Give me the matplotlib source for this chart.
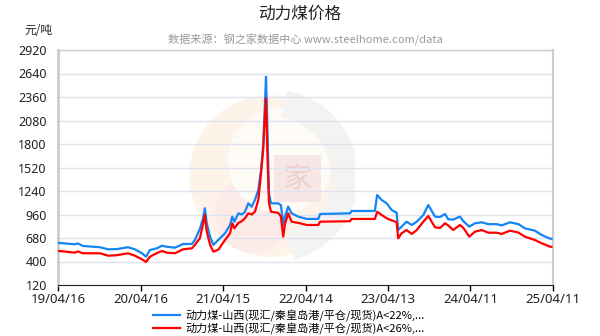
import matplotlib
matplotlib.use("Agg")
import matplotlib.pyplot as plt
import matplotlib.dates as mdates
import pandas as pd
from matplotlib.patches import Circle, Wedge, Rectangle

plt.rcParams["font.family"] = ["Noto Sans", "Noto Sans CJK SC", "DejaVu Sans"]

# ---------------------------------------------------------------
# 数据
# ---------------------------------------------------------------
dates = [
    "2019-04-16", "2019-04-25", "2019-06-30", "2019-07-13", "2019-08-04", "2019-10-19", "2019-11-23", "2020-01-02", "2020-02-19", "2020-03-21",
    "2020-04-21", "2020-05-09", "2020-05-26", "2020-06-26", "2020-07-18", "2020-08-10", "2020-09-14", "2020-10-19", "2020-11-28", "2020-12-11",
    "2021-01-02", "2021-01-16", "2021-01-24", "2021-02-01", "2021-02-16", "2021-03-02", "2021-03-24", "2021-04-23", "2021-05-15", "2021-05-25",
    "2021-06-03", "2021-06-21", "2021-07-06", "2021-07-20", "2021-08-04", "2021-08-19", "2021-09-02", "2021-09-17", "2021-09-29", "2021-10-09",
    "2021-10-17", "2021-10-21", "2021-10-27", "2021-11-03", "2021-11-12", "2021-12-14", "2021-12-26", "2022-01-05", "2022-01-13", "2022-01-27",
    "2022-02-11", "2022-03-13", "2022-04-19", "2022-06-09", "2022-06-17", "2022-10-27", "2022-11-03", "2023-02-14", "2023-02-24", "2023-03-16",
    "2023-04-07", "2023-04-29", "2023-05-21", "2023-05-28", "2023-06-12", "2023-07-04", "2023-07-27", "2023-08-18", "2023-09-16", "2023-10-08",
    "2023-11-07", "2023-11-29", "2023-12-21", "2024-01-04", "2024-01-26", "2024-02-25", "2024-03-11", "2024-04-06", "2024-05-01", "2024-05-31",
    "2024-06-29", "2024-08-05", "2024-08-27", "2024-10-03", "2024-11-09", "2024-12-08", "2025-01-21", "2025-02-20", "2025-03-29", "2025-04-04",
]

# A<22%
price_22 = [
    625, 620, 605, 615, 585, 570, 545, 548, 570, 545,
    498, 457, 537, 557, 588, 575, 565, 608, 610, 656,
    790, 915, 1034, 855, 696, 597, 656, 736, 835, 934,
    874, 974, 960, 993, 1093, 1053, 1133, 1252, 1490, 1808,
    2324, 2602, 2006, 1213, 1093, 1093, 1070, 835, 940, 1053,
    974, 934, 907, 907, 966, 974, 1002, 1002, 1192, 1133,
    1093, 1014, 982, 775, 815, 874, 835, 874, 954, 1073,
    934, 930, 966, 903, 900, 934, 880, 815, 855, 867,
    845, 845, 830, 867, 845, 795, 767, 716, 672, 670,
]

# A<26%
price_26 = [
    525, 525, 505, 520, 498, 498, 469, 475, 498, 469,
    426, 394, 457, 500, 525, 505, 498, 545, 557, 600,
    677, 850, 954, 760, 597, 517, 540, 656, 736, 855,
    795, 860, 880, 915, 974, 960, 993, 1133, 1451, 1750,
    2200, 2344, 1700, 1100, 993, 980, 934, 696, 850, 974,
    874, 860, 835, 835, 874, 880, 907, 907, 993, 954,
    915, 890, 870, 676, 736, 775, 728, 775, 874, 942,
    807, 800, 855, 830, 775, 835, 800, 696, 755, 775,
    743, 743, 728, 767, 745, 696, 656, 617, 577, 575,
]

labels = [
    "动力煤-山西(现汇/秦皇岛港/平仓/现货)A<22%,...",
    "动力煤-山西(现汇/秦皇岛港/平仓/现货)A<26%,...",
]
x_ticks = ["2019-04-16", "2020-04-16", "2021-04-15", "2022-04-14", "2023-04-13", "2024-04-11", "2025-04-11"]
y_ticks = [120, 400, 680, 960, 1240, 1520, 1800, 2080, 2360, 2640, 2920]

COR_AZUL = "#1584f5"
COR_VERM = "#ff0000"

fig = plt.figure(figsize=(6, 3.36), dpi=100)

# logo ao fundo (marca d'agua bem clara)
wm = fig.add_axes([(270 - 85) / 600, (336 - 176 - 85) / 336, 170 / 600, 170 / 336], zorder=0)
wm.set_xlim(-1, 1)
wm.set_ylim(-1, 1)
wm.axis("off")
wm.add_patch(Circle((0, 0), 0.95, color="#fdf3e9", lw=0))
wm.add_patch(Circle((-0.2, -0.45), 0.45, color="#fcebe8", lw=0))
wm.add_patch(Circle((0.12, 0.18), 0.62, color="#fefaf5", lw=0))
wm.add_patch(Wedge((0.02, 0), 1.02, -75, 80, width=0.32, color="#f3f3f3", lw=0))
wm.add_patch(Rectangle((0.05, -0.3), 0.55, 0.55, color="#f7e6e6", lw=0))
wm.text(0.325, -0.03, "家", ha="center", va="center", fontsize=20, color="#eed0d0",
        family=["Noto Sans CJK SC"])

ax = fig.add_axes([58 / 600, (336 - 285) / 336, 495 / 600, 235 / 336], zorder=1)
ax.patch.set_alpha(0)

x = pd.to_datetime(dates)
ax.plot(x, price_22, color=COR_AZUL, lw=1.6, label=labels[0], zorder=3)
ax.plot(x, price_26, color=COR_VERM, lw=1.6, label=labels[1], zorder=3)

ax.set_xlim(pd.Timestamp(x_ticks[0]), pd.Timestamp(x_ticks[-1]))
ax.set_ylim(y_ticks[0], y_ticks[-1])
ax.set_yticks(y_ticks)
ax.set_xticks(pd.to_datetime(x_ticks))
ax.xaxis.set_major_formatter(mdates.DateFormatter("%y/%m/%d"))
ax.grid(True, axis="y", color="#dfe2ef", lw=1)
ax.set_axisbelow(True)

ax.tick_params(axis="y", length=0, pad=8, labelsize=9, labelcolor="#222222")
ax.tick_params(axis="x", length=4, width=1, pad=2, labelsize=9.5, labelcolor="#222222")

for lado in ["left", "top", "right"]:
    ax.spines[lado].set_color("#cccccc")
ax.spines["left"].set_linewidth(2)
ax.spines["right"].set_linewidth(1.5)
ax.spines["top"].set_linewidth(1)
ax.spines["bottom"].set_color("#222222")

fig.text(0.5, 1 - 14 / 336, "动力煤价格", ha="center", va="center", fontsize=12,
         family=["Noto Sans CJK SC"], color="#222222")
fig.text(305 / 600, 1 - 40 / 336, "数据来源：钢之家数据中心 www.steelhome.com/data", ha="center",
         va="center", fontsize=8, color="#999999", family=["Noto Sans CJK SC"])
fig.text(38 / 600, 1 - 30 / 336, "元/吨", ha="center", va="center", fontsize=8.5,
         family=["Noto Sans CJK SC"], color="#222222")

fig.legend(loc="upper left", bbox_to_anchor=(153 / 600, 1 - 309 / 336), frameon=False,
           handlelength=2.4, handletextpad=0.5, labelspacing=0.1,
           borderpad=0, borderaxespad=0, prop={"family": ["Noto Sans CJK SC"], "size": 8})

fig.savefig("out.png", dpi=100)
